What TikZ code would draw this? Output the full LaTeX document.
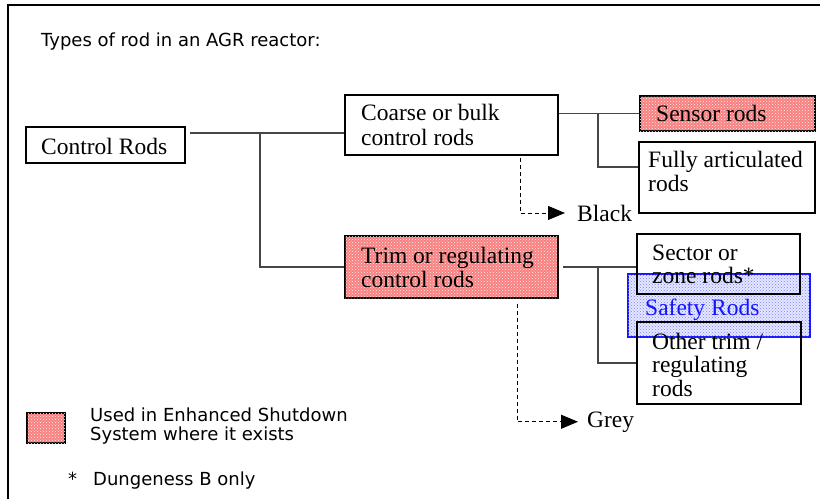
\documentclass[tikz,border=0pt]{standalone}
\usepackage{fontspec}
\setmainfont{Liberation Serif}
\newfontfamily\labelsans{DejaVu Sans}
\usetikzlibrary{arrows.meta,patterns,calc}

\definecolor{eshred}{RGB}{248,128,128}
\definecolor{eshdot}{RGB}{255,240,240}
\definecolor{safefill}{RGB}{228,232,255}
\definecolor{safeblue}{RGB}{20,20,255}
\definecolor{linegrey}{RGB}{70,70,70}

\begin{document}
\begin{tikzpicture}[x=1pt,y=-1pt,
  box/.style={draw=black,line width=1.1pt,rectangle,inner sep=0pt},
  eshbox/.style={box,fill=eshred,postaction={pattern=crosshatch dots,pattern color=eshdot}},
  serif/.style={font=\fontsize{23.5}{#1}\selectfont,inner sep=0pt,anchor=base west,align=left},
  serif/.default=24,
  sans/.style={font=\labelsans\fontsize{18}{19}\selectfont,inner sep=0pt,anchor=base west,align=left},
  link/.style={draw=linegrey,line width=1.2pt},
  dasharrow/.style={draw=black,line width=0.9pt,dash pattern=on 4pt off 3pt,
    -{Triangle[length=17pt,width=14pt]}}
]
\useasboundingbox (0,0) rectangle (820,499);

% page frame (top and left edges)
\draw[line width=1.8pt] (8,499) -- (8,5) -- (820,5);

\node[sans] (title) at (41,46.5) {Types of rod in an AGR reactor:};

% boxes
\node[box,minimum width=159pt,minimum height=36pt] (ctrl) at (105.5,145) {};
\node[box,minimum width=213pt,minimum height=60pt] (coarse) at (451.5,125) {};
\node[eshbox,minimum width=175pt,minimum height=35pt] (sensor) at (727.5,113.5) {};
\node[box,minimum width=176pt,minimum height=71pt] (fully) at (727,177.5) {};
\node[eshbox,minimum width=213pt,minimum height=62pt] (trim) at (451.5,267) {};
\node[draw=safeblue,line width=1.1pt,rectangle,inner sep=0pt,fill=safefill,
      postaction={pattern=crosshatch dots,pattern color=safeblue!55},
      minimum width=182pt,minimum height=63pt] (safety) at (719,305.5) {};
\node[box,minimum width=163pt,minimum height=60pt] (sector) at (718.5,264) {};
\node[box,minimum width=164pt,minimum height=82pt] (other) at (719,363) {};
\node[eshbox,minimum width=38pt,minimum height=30pt] (swatch) at (46,428) {};

% box texts (multi-line nodes sit on the baseline of their last line)
\node[serif] (ctrlT) at (41,154) {Control Rods};
\node[serif=25] (coarseT) at (361,145) {Coarse or bulk\\control rods};
\node[serif] (sensorT) at (656,121) {Sensor rods};
\node[serif] (fullyT) at (648,191) {Fully articulated\\rods};
\node[serif=23.5] (trimT) at (361,287) {Trim or regulating\\control rods};
\node[serif=23] (sectorT) at (652,283) {Sector or\\zone rods*};
\node[serif,text=safeblue] (safetyT) at (645,315.5) {Safety Rods};
\node[serif=23.5] (otherT) at (652,396) {Other trim /\\regulating\\rods};
\node[serif] (black) at (577,221) {Black};
\node[serif] (grey) at (587,427) {Grey};

% tree connectors
\coordinate (jA) at (260,133);
\draw[link] ($(ctrl.east |- jA)+(4,0)$) -- (coarse.west |- jA);
\draw[link] (jA) |- (trim.west);

\coordinate (jB) at (598,113.5);
\coordinate (jB2) at (598,167);
\draw[link] (coarse.east |- sensor.west) -- (sensor.west);
\draw[link] (jB) -- (jB2) -- (fully.west |- jB2);

\coordinate (jC) at (598,267);
\draw[link] ($(trim.east)+(4,0)$) -- (sector.west |- trim.east);
\draw[link] (jC) |- (other.west);

% colour-coding arrows
\draw[dasharrow] ($(coarse.south)+(68.5,2)$) |- ($(black.west)+(-12,0)$);
\draw[dasharrow] ($(trim.south)+(65.5,5)$) |- ($(grey.west)+(-9,0)$);

% legend
\node[sans] (legT) at (90,440.7) {Used in Enhanced Shutdown\\System where it exists};
\node[sans] (star) at (68,485) {*};
\node[sans] (dung) at (93,485) {Dungeness B only};
\end{tikzpicture}
\end{document}
